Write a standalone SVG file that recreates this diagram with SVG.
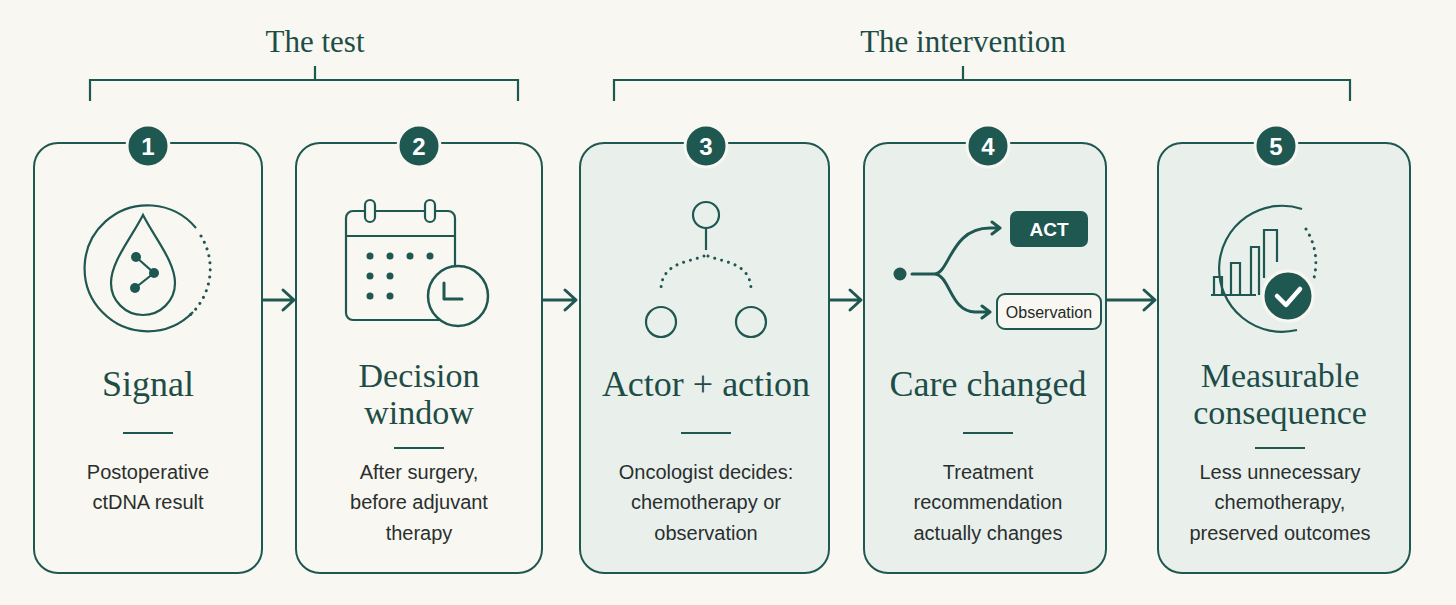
<svg xmlns="http://www.w3.org/2000/svg" width="1456" height="605" viewBox="0 0 1456 605">
<style>
.bg{fill:#f8f7f1}
.box{fill:#f8f7f1;stroke:#1f5751;stroke-width:2}
.box2{fill:#e9f0ec;stroke:#1f5751;stroke-width:2}
.ln{fill:none;stroke:#1f5751;stroke-width:2.2}
.thk{fill:none;stroke:#1f5751;stroke-width:3;stroke-linecap:round;stroke-linejoin:round}
.dot{fill:none;stroke:#1f5751;stroke-width:3;stroke-dasharray:0.1 7;stroke-linecap:round}
.fill{fill:#1f5751}
.badge{fill:#1f5751;stroke:#f8f7f1;stroke-width:3}
.num{font-family:"Liberation Sans",Arial,sans-serif;font-weight:bold;font-size:24px;fill:#fff;text-anchor:middle}
.ttl{font-family:"Liberation Serif","Times New Roman",serif;font-size:36px;fill:#1e4d47;text-anchor:middle}
.ttl2{font-family:"Liberation Serif","Times New Roman",serif;font-size:34px;fill:#1e4d47;text-anchor:middle}
.hd{font-family:"Liberation Serif","Times New Roman",serif;font-size:31px;fill:#1e4d47;text-anchor:middle}
.body{font-family:"Liberation Sans",Arial,sans-serif;font-size:20px;fill:#2a2f2e;text-anchor:middle}
.div{stroke:#1f5751;stroke-width:2}
</style>
<rect class="bg" width="1456" height="605"/>
<g id="brackets">
<path class="ln" d="M90 101V80H518V101M315 80V66"/>
<text class="hd" x="315" y="52">The test</text>
<path class="ln" d="M614 101V80H1350V101M963 80V66"/>
<text class="hd" x="963" y="52">The intervention</text>
</g>
<g id="connectors">
<path class="thk" d="M263 300H293M283 290L294 300L283 310"/>
<path class="thk" d="M543 300H575M565 290L576 300L565 310"/>
<path class="thk" d="M830 300H860M850 290L861 300L850 310"/>
<path class="thk" d="M1107 300H1154M1144 290L1155 300L1144 310"/>
</g>
<g id="n1">
<rect class="box" x="34" y="143" width="228" height="430" rx="24"/>
<circle class="badge" cx="148" cy="146" r="21"/><text class="num" x="148" y="155">1</text>
<path class="ln" d="M196 228A63 63 0 1 0 193 312"/>
<path class="dot" d="M201 236A63 63 0 0 1 189 316"/>
<path class="ln" d="M143 215C130 240 111 262 111 283A32 32 0 0 0 175 283C175 262 156 240 143 215Z"/>
<path class="ln" d="M136 257L154 273L135 288"/>
<circle class="fill" cx="136" cy="257" r="5"/><circle class="fill" cx="154" cy="273" r="5"/><circle class="fill" cx="135" cy="288" r="5"/>
<text class="ttl" x="148" y="396">Signal</text>
<line class="div" x1="123" y1="433" x2="173" y2="433"/>
<text class="body" x="148" y="479">Postoperative</text>
<text class="body" x="148" y="509">ctDNA result</text>
</g>
<g id="n2">
<rect class="box" x="296" y="143" width="246" height="430" rx="24"/>
<circle class="badge" cx="419" cy="146" r="21"/><text class="num" x="419" y="155">2</text>
<rect class="ln" x="346" y="211" width="109" height="109" rx="7"/>
<line class="ln" x1="346" y1="236" x2="455" y2="236"/>
<rect x="365" y="200" width="10" height="22" rx="5" fill="#f8f7f1" stroke="#1f5751" stroke-width="2.2"/>
<rect x="425" y="200" width="10" height="22" rx="5" fill="#f8f7f1" stroke="#1f5751" stroke-width="2.2"/>
<g class="fill"><circle cx="370" cy="256" r="3.5"/><circle cx="390" cy="256" r="3.5"/><circle cx="410" cy="256" r="3.5"/><circle cx="430" cy="256" r="3.5"/><circle cx="370" cy="276" r="3.5"/><circle cx="390" cy="276" r="3.5"/><circle cx="370" cy="296" r="3.5"/><circle cx="390" cy="296" r="3.5"/></g>
<circle cx="458" cy="296" r="30" fill="#f8f7f1" stroke="#1f5751" stroke-width="2.5"/>
<path class="thk" d="M444 283V299H462"/>
<text class="ttl2" x="419" y="387">Decision</text>
<text class="ttl2" x="419" y="424">window</text>
<line class="div" x1="394" y1="448" x2="444" y2="448"/>
<text class="body" x="419" y="479">After surgery,</text>
<text class="body" x="419" y="509">before adjuvant</text>
<text class="body" x="419" y="540">therapy</text>
</g>
<g id="n3">
<rect class="box2" x="580" y="143" width="249" height="430" rx="24"/>
<circle class="badge" cx="706" cy="146" r="21"/><text class="num" x="706" y="155">3</text>
<circle class="ln" cx="706" cy="215" r="13"/>
<circle class="ln" cx="661" cy="322" r="15"/>
<circle class="ln" cx="751" cy="322" r="15"/>
<path class="ln" d="M706 228V250"/>
<path class="dot" d="M704 256C690 262 661 262 661 290M708 256C722 262 751 262 751 290"/>
<text class="ttl" x="706" y="396">Actor + action</text>
<line class="div" x1="681" y1="433" x2="731" y2="433"/>
<text class="body" x="706" y="479">Oncologist decides:</text>
<text class="body" x="706" y="509">chemotherapy or</text>
<text class="body" x="706" y="540">observation</text>
</g>
<g id="n4">
<rect class="box2" x="864" y="143" width="242" height="430" rx="24"/>
<circle class="badge" cx="988" cy="146" r="21"/><text class="num" x="988" y="155">4</text>
<circle class="fill" cx="900" cy="274" r="6.5"/>
<path class="thk" d="M912 274H934C950 274 950 228 990 228H1000M992 222L1000 228L992 234M934 274C950 274 950 312 975 312H990M982 306L990 312L982 318"/>
<rect class="fill" x="1010" y="211" width="78" height="36" rx="7"/>
<text x="1049" y="236" font-family="'Liberation Sans',Arial,sans-serif" font-size="19" font-weight="bold" fill="#fff" text-anchor="middle">ACT</text>
<rect x="997" y="294" width="104" height="35" rx="8" fill="#f8f7f1" stroke="#1f5751" stroke-width="2"/>
<text x="1049" y="318" font-family="'Liberation Sans',Arial,sans-serif" font-size="16" fill="#1e2a28" text-anchor="middle">Observation</text>
<text class="ttl" x="988" y="396">Care changed</text>
<line class="div" x1="963" y1="433" x2="1013" y2="433"/>
<text class="body" x="988" y="479">Treatment</text>
<text class="body" x="988" y="509">recommendation</text>
<text class="body" x="988" y="540">actually changes</text>
</g>
<g id="n5">
<rect class="box2" x="1158" y="143" width="252" height="430" rx="24"/>
<circle class="badge" cx="1276" cy="146" r="21"/><text class="num" x="1276" y="155">5</text>
<path class="ln" d="M1297 330A63 63 0 1 1 1302 209"/>
<path class="dot" d="M1306 229A63 63 0 0 1 1314 278"/>
<path class="ln" d="M1211 295H1256M1214 295V277H1222V295M1231 295V263H1240V295M1251 295V247H1259V295M1264 278V230H1277V262"/>
<circle class="badge" cx="1288" cy="296" r="25"/>
<path d="M1277 296L1286 305L1300 289" fill="none" stroke="#fff" stroke-width="4.5" stroke-linecap="round" stroke-linejoin="round"/>
<text class="ttl2" x="1280" y="387">Measurable</text>
<text class="ttl2" x="1280" y="424">consequence</text>
<line class="div" x1="1255" y1="448" x2="1305" y2="448"/>
<text class="body" x="1280" y="479">Less unnecessary</text>
<text class="body" x="1280" y="509">chemotherapy,</text>
<text class="body" x="1280" y="540">preserved outcomes</text>
</g>
</svg>
